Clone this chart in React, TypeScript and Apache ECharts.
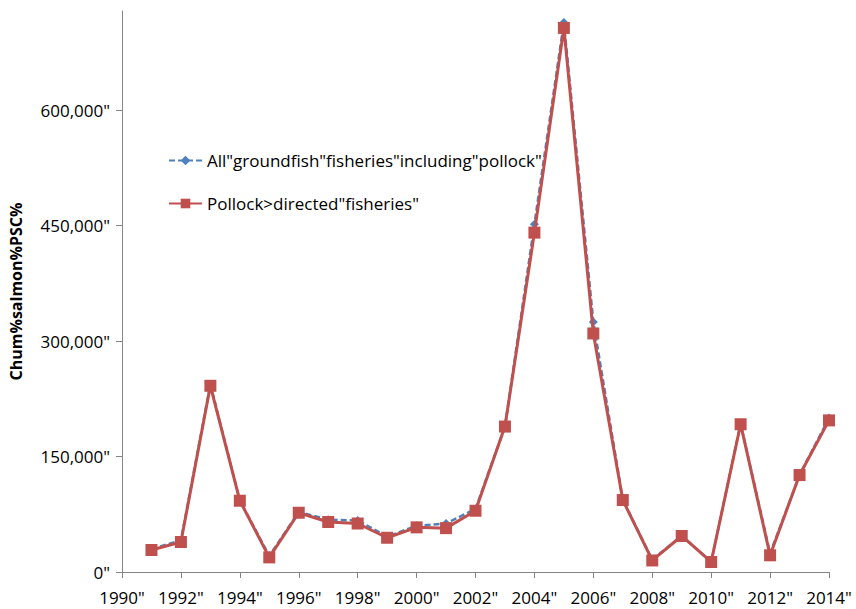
import React, { useEffect, useRef } from "react";
import * as echarts from "echarts";

const years = [1991, 1992, 1993, 1994, 1995, 1996, 1997, 1998, 1999, 2000, 2001, 2002, 2003, 2004, 2005, 2006, 2007, 2008, 2009, 2010, 2011, 2012, 2013, 2014];
const allGroundfish = [30000, 41000, 244000, 93000, 21000, 78000, 68000, 67000, 46000, 60000, 63000, 82000, 189000, 452000, 714000, 325000, 94000, 16000, 47000, 13000, 193000, 24000, 126000, 200000];
const pollockDirected = [28600, 39000, 242000, 92600, 19000, 77000, 65000, 63000, 44500, 58000, 57000, 79600, 189000, 441000, 707000, 310000, 93500, 15000, 46800, 13000, 192000, 21700, 126000, 197000];
const yTicks = [0, 150000, 300000, 450000, 600000];
const seriesNames = ['All"groundfish"fisheries"including"pollock"', 'Pollock>directed"fisheries"'];
const yTitle = "Chum%salmon%PSC%";

const FONT = "'Open Sans', 'Liberation Sans', sans-serif";

export default function App() {
  const ref = useRef<HTMLDivElement>(null);
  useEffect(() => {
    if (!ref.current) return;
    const chart = echarts.init(ref.current, undefined, { renderer: "svg" });
    const axisColor = "#868686";
    chart.setOption({
      animation: false,
      backgroundColor: "#ffffff",
      textStyle: { fontFamily: FONT },
      grid: { left: 121, right: 27, top: 11, bottom: 37, containLabel: false },
      legend: {
        orient: "vertical",
        left: 163,
        top: 147,
        itemGap: 26,
        itemWidth: 33,
        itemHeight: 12,
        textStyle: { fontSize: 17, color: "#000", fontFamily: FONT },
        data: seriesNames,
      },
      xAxis: {
        type: "value",
        min: 1990,
        max: 2014,
        interval: 2,
        splitLine: { show: false },
        axisLine: { lineStyle: { color: axisColor, width: 1 } },
        axisTick: { show: true, length: 6, lineStyle: { color: axisColor } },
        axisLabel: {
          color: "#000",
          fontSize: 17,
          fontFamily: FONT,
          margin: 17,
          formatter: (v: number) => `${v}"`,
        },
      },
      yAxis: {
        type: "value",
        min: 0,
        max: 729000,
        name: yTitle,
        nameLocation: "middle",
        nameGap: 98,
        nameTextStyle: { fontSize: 16, fontWeight: "bold", color: "#000", fontFamily: FONT },
        splitLine: { show: false },
        axisLine: { show: true, lineStyle: { color: axisColor, width: 1 } },
        axisTick: { show: true, length: 6, customValues: yTicks, lineStyle: { color: axisColor } },
        axisLabel: {
          color: "#000",
          fontSize: 17,
          fontFamily: FONT,
          margin: 12,
          customValues: yTicks,
          formatter: (v: number) => `${v.toLocaleString("en-US")}"`,
        },
      },
      series: [
        {
          name: seriesNames[0],
          type: "line",
          data: years.map((y, i) => [y, allGroundfish[i]]),
          symbol: "diamond",
          symbolSize: 9,
          color: "#4F81BD",
          itemStyle: { color: "#4F81BD" },
          lineStyle: { color: "#4F81BD", width: 2.5, type: [6, 3] },
          z: 2,
        },
        {
          name: seriesNames[1],
          type: "line",
          data: years.map((y, i) => [y, pollockDirected[i]]),
          symbol: "rect",
          symbolSize: 12,
          color: "#C0504D",
          itemStyle: { color: "#C0504D" },
          lineStyle: { color: "#C0504D", width: 3 },
          z: 3,
        },
      ],
    });
    return () => chart.dispose();
  }, []);
  return <div ref={ref} style={{ position: "absolute", left: 0, top: 0, width: 856, height: 609 }} />;
}
